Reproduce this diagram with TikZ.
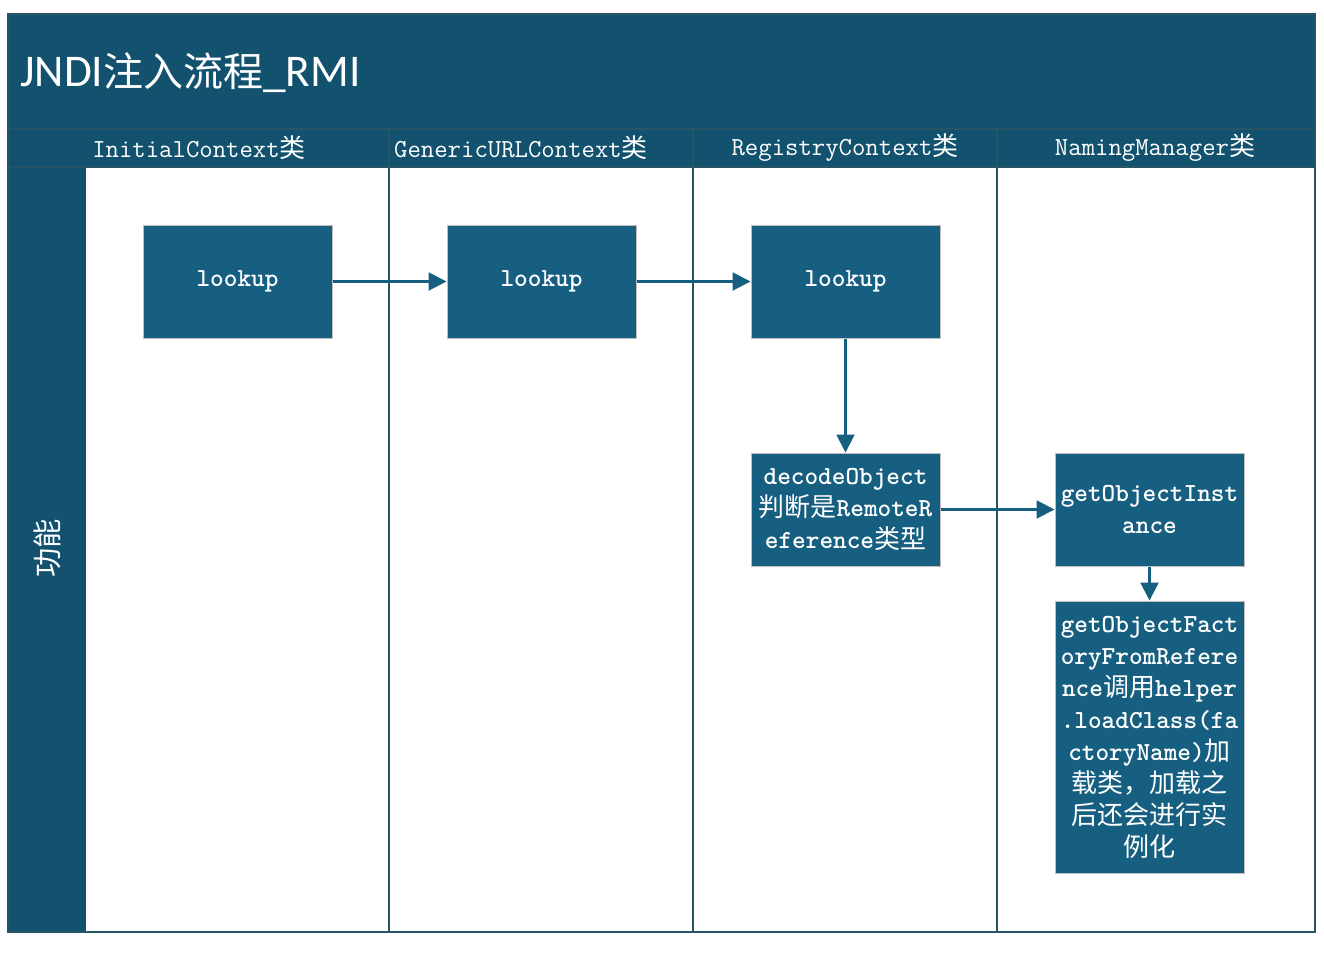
\documentclass[tikz,border=0pt]{standalone}
\usepackage{fontspec}
\newfontfamily\cjk{Noto Sans CJK SC}
\newfontfamily\titlefont{Carlito}
\usetikzlibrary{arrows.meta,positioning}
\definecolor{lanebg}{RGB}{19,82,110}
\definecolor{laneline}{RGB}{40,84,104}
\definecolor{boxfill}{RGB}{23,95,128}
\definecolor{boxedge}{RGB}{191,191,191}
\newcommand{\zh}[1]{{\mdseries\cjk #1}}

\begin{document}
\begin{tikzpicture}[x=0.75pt,y=-0.75pt,
  font={\fontsize{19.5}{24}\selectfont\ttfamily},
  fnbox/.style={draw=boxedge,line width=0.75pt,fill=boxfill,text=white,
    minimum width=141.75pt,minimum height=84.75pt,inner sep=1pt,align=center,
    font={\fontsize{19.5}{24}\selectfont\ttfamily\bfseries}},
  flow/.style={draw=boxfill,line width=1.6pt,-{Triangle[length=13.5pt,width=13.5pt]}}]
\useasboundingbox (0,0) rectangle (1324,956);
\fill[white] (0,0) rectangle (1324,956);

% title band, header row and left column
\fill[lanebg] (8,14) rectangle (1315,167);
\fill[lanebg] (8,167) rectangle (86,932);
\draw[laneline,line width=1pt] (8,129) -- (1315,129);
\draw[laneline,line width=1pt] (8,167) -- (1315,167);

% lane separators
\foreach \x in {389,693,997}
  \draw[laneline,line width=1.2pt] (\x,129) -- (\x,932);
\draw[laneline,line width=1.5pt] (8,14) rectangle (1315,932);

% title
\node[anchor=west,text=white,inner sep=0pt] (title) at (20,73)
  {\fontsize{34}{40}\selectfont\titlefont JNDI{\fontsize{30}{40}\selectfont\cjk 注入流程}\_RMI};

% lane headers
\foreach \x/\name [count=\i] in
  {199/InitialContext,521/GenericURLContext,845/RegistryContext,1155/NamingManager}
  \node[text=white,inner sep=0pt] (hdr\i) at (\x,148) {\name\zh{类}};

% row label
\node[rotate=90,text=white,font={\fontsize{22}{24}\selectfont\cjk}] (row) at (47,548) {功能};

% boxes
\node[fnbox] (look1) at (237.5,281.5) {lookup};
\node[fnbox] (look2) at (541.5,281.5) {lookup};
\node[fnbox] (look3) at (845.5,281.5) {lookup};
\node[fnbox] (decode) at (845.5,509.5)
  {decodeObject\\\zh{判断是}RemoteR\\eference\zh{类型}};
\node[fnbox] (inst) at (1149.5,509.5) {getObjectInst\\ance};
\node[fnbox,minimum height=204pt] (factory) at (1149.5,737)
  {getObjectFact\\oryFromRefere\\nce\zh{调用}helper\\.loadClass(fa\\ctoryName)\zh{加}\\
   \zh{载类，加载之}\\\zh{后还会进行实}\\\zh{例化}};

% flow
\draw[flow] (look1) -- (look2);
\draw[flow] (look2) -- (look3);
\draw[flow] (look3) -- (decode);
\draw[flow] (decode) -- (inst);
\draw[flow] (inst) -- (factory);

\end{tikzpicture}
\end{document}
